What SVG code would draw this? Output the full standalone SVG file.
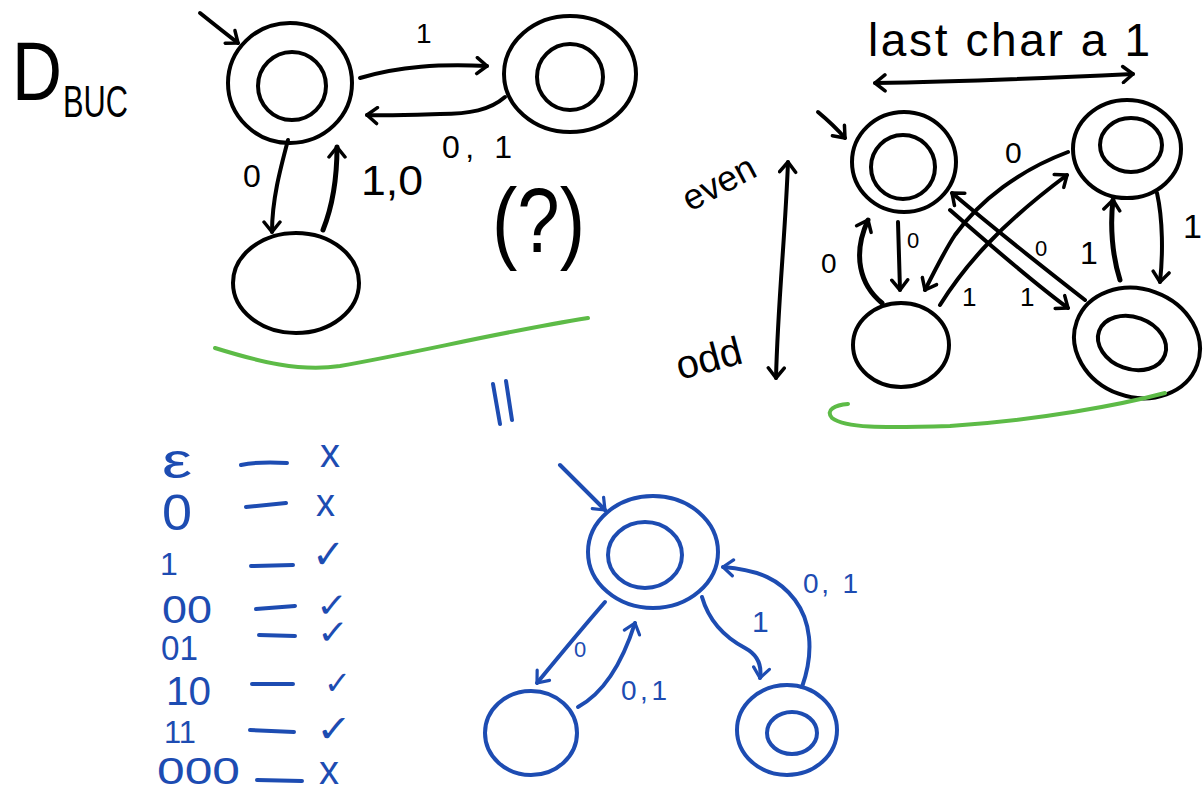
<svg xmlns="http://www.w3.org/2000/svg" width="1203" height="790" viewBox="0 0 1203 790">
<defs>
<style>
.k{fill:none;stroke:#000;stroke-width:4;stroke-linecap:round;stroke-linejoin:round}
.kt{fill:none;stroke:#000;stroke-width:5;stroke-linecap:round;stroke-linejoin:round}
.b{fill:none;stroke:#1d4cb2;stroke-width:4;stroke-linecap:round;stroke-linejoin:round}
.g{fill:none;stroke:#5dbb47;stroke-width:4;stroke-linecap:round;stroke-linejoin:round}
.tk{font-family:"Liberation Sans",Arial,sans-serif;fill:#000}
.tb{font-family:"Liberation Sans",Arial,sans-serif;fill:#1d4cb2}
.sym{font-family:"DejaVu Sans",sans-serif;fill:#1d4cb2}
.ak{marker-end:url(#mk)}
.ab{marker-end:url(#mb)}
.dk{marker-start:url(#mk);marker-end:url(#mk)}
</style>
<marker id="mk" viewBox="0 0 20 20" refX="13" refY="10" markerWidth="20" markerHeight="20" orient="auto-start-reverse" markerUnits="userSpaceOnUse">
<path d="M3,2 L13,10 L3,18" fill="none" stroke="#000" stroke-width="3.5" stroke-linecap="round" stroke-linejoin="round"/>
</marker>
<marker id="mb" viewBox="0 0 20 20" refX="13" refY="10" markerWidth="20" markerHeight="20" orient="auto" markerUnits="userSpaceOnUse">
<path d="M3,2 L13,10 L3,18" fill="none" stroke="#1d4cb2" stroke-width="3.2" stroke-linecap="round" stroke-linejoin="round"/>
</marker>
</defs>

<!-- Title -->
<g id="title">
<text class="tk" x="12" y="100" font-size="84" textLength="50" lengthAdjust="spacingAndGlyphs">D</text>
<text class="tk" x="63" y="117" font-size="44" textLength="65" lengthAdjust="spacingAndGlyphs">BUC</text>
</g>

<!-- Top-left automaton nodes -->
<g id="nodeA">
<ellipse class="k" cx="290" cy="83" rx="62" ry="60"/>
<ellipse class="k" cx="292" cy="86" rx="34" ry="34"/>
</g>
<g id="nodeB">
<ellipse class="k" cx="570" cy="74" rx="66" ry="58"/>
<ellipse class="k" cx="570" cy="77" rx="33" ry="33"/>
</g>
<g id="nodeC">
<ellipse class="k" cx="296" cy="283" rx="63" ry="50"/>
</g>

<!-- Top-right automaton nodes -->
<g id="nodeD">
<ellipse class="k" cx="904" cy="162" rx="52" ry="50"/>
<ellipse class="k" cx="903" cy="167" rx="32" ry="32"/>
</g>
<g id="nodeE">
<ellipse class="k" cx="1127" cy="149" rx="54" ry="49"/>
<ellipse class="k" cx="1131" cy="145" rx="31" ry="27"/>
</g>
<g id="nodeF">
<ellipse class="k" cx="901" cy="345" rx="48" ry="42"/>
</g>
<g id="nodeG">
<ellipse class="k" cx="1137" cy="343" rx="64" ry="54" transform="rotate(20 1137 343)"/>
<ellipse class="k" cx="1132" cy="343" rx="35" ry="26" transform="rotate(20 1132 343)"/>
</g>

<!-- Bottom blue automaton nodes -->
<g id="nodeH">
<ellipse class="b" cx="653" cy="552" rx="65" ry="56"/>
<ellipse class="b" cx="645" cy="555" rx="37" ry="33"/>
</g>
<g id="nodeI">
<ellipse class="b" cx="531" cy="733" rx="46" ry="42"/>
</g>
<g id="nodeJ">
<ellipse class="b" cx="787" cy="730" rx="50" ry="45"/>
<ellipse class="b" cx="792" cy="733" rx="25" ry="21"/>
</g>

<!-- Connectors -->
<g id="connectors">
<path class="k ak" d="M200,13 C215,25 225,33 238,43"/>
<path class="k ak" d="M360,78 C400,66 440,64 487,66"/>
<path class="k ak" d="M505,97 C490,110 470,114 440,114 C410,115 385,116 367,115"/>
<path class="k ak" d="M288,140 C280,170 272,200 272,232"/>
<path class="kt ak" d="M323,230 C333,205 337,175 337,147"/>

<path class="k ak" d="M818,112 C830,122 838,130 845,138"/>
<path class="k dk" d="M875,83 C950,82 1050,78 1133,74"/>
<path class="k dk" d="M788,162 C785,240 778,300 776,378"/>
<path class="k ak" d="M898,222 L900,290"/>
<path class="kt ak" d="M882,303 C860,285 852,255 868,220"/>
<path class="k ak" d="M1068,152 C1020,170 980,200 955,235 C945,250 935,270 925,290"/>
<path class="k ak" d="M940,305 C965,265 1000,225 1067,175"/>
<path class="k ak" d="M1085,300 C1040,265 990,225 952,193"/>
<path class="k ak" d="M950,210 C990,245 1030,280 1068,308"/>
<path class="kt ak" d="M1120,280 C1112,255 1110,225 1113,200"/>
<path class="k ak" d="M1157,193 C1163,220 1163,255 1160,282"/>

<path class="b ab" d="M560,465 C575,480 590,495 605,510"/>
<path class="b ab" d="M605,602 C585,625 560,655 537,683"/>
<path class="b ab" d="M578,707 C600,695 620,670 635,623" stroke-width="5"/>
<path class="b ab" d="M702,597 C710,625 730,640 745,648 C758,655 762,665 760,678"/>
<path class="b ab" d="M802,687 C815,650 810,620 795,600 C780,580 760,570 723,567"/>
</g>

<!-- Green underlines and blue equals -->
<g id="marks">
<path class="g" d="M215,348 C260,362 300,372 340,366 C420,352 500,332 588,318"/>
<path class="g" d="M848,404 C835,405 825,410 832,418 C845,428 880,428 950,426 C1040,420 1120,405 1165,393"/>
<path class="b" d="M493,384 L500,424 M506,381 L512,420"/>
</g>

<!-- Labels top-left -->
<g id="labels-left">
<text class="tk" x="416" y="43" font-size="28">1</text>
<text class="tk" x="442" y="158" font-size="32" textLength="70" lengthAdjust="spacing">0, 1</text>
<text class="tk" x="243" y="187" font-size="32">0</text>
<text class="tk" x="361" y="195" font-size="42" textLength="62" lengthAdjust="spacingAndGlyphs">1,0</text>
<text class="tk" x="492" y="252" font-size="90" textLength="93" lengthAdjust="spacingAndGlyphs">(?)</text>
</g>

<!-- Labels top-right -->
<g id="labels-right">
<text class="tk" x="868" y="56" font-size="46" textLength="282" lengthAdjust="spacing">last char a 1</text>
<text class="tk" x="690" y="212" font-size="36" transform="rotate(-28 690 212)">even</text>
<text class="tk" x="680" y="380" font-size="40" transform="rotate(-15 680 380)">odd</text>
<text class="tk" x="1005" y="163" font-size="30">0</text>
<text class="tk" x="907" y="248" font-size="22">0</text>
<text class="tk" x="821" y="273" font-size="28">0</text>
<text class="tk" x="962" y="306" font-size="26">1</text>
<text class="tk" x="1020" y="306" font-size="26">1</text>
<text class="tk" x="1035" y="256" font-size="22">0</text>
<text class="tk" x="1080" y="264" font-size="32">1</text>
<text class="tk" x="1183" y="238" font-size="34">1</text>
</g>

<!-- Blue table -->
<g id="table">
<text class="tb" x="162" y="478" font-size="50" textLength="30" lengthAdjust="spacingAndGlyphs">ε</text>
<text class="tb" x="162" y="530" font-size="50" textLength="30" lengthAdjust="spacingAndGlyphs">0</text>
<text class="tb" x="160" y="575" font-size="32">1</text>
<text class="tb" x="162" y="623" font-size="38" textLength="50" lengthAdjust="spacingAndGlyphs">00</text>
<text class="tb" x="161" y="660" font-size="35" textLength="37" lengthAdjust="spacingAndGlyphs">01</text>
<text class="tb" x="166" y="705" font-size="40" textLength="45" lengthAdjust="spacingAndGlyphs">10</text>
<text class="tb" x="164" y="743" font-size="32" textLength="32" lengthAdjust="spacingAndGlyphs">11</text>
<text class="tb" x="157" y="784" font-size="36" textLength="83" lengthAdjust="spacingAndGlyphs">000</text>
<path class="b" d="M241,465 C255,462 270,462 287,463 M246,507 L286,503 M251,566 L293,565 M256,609 L295,606 M259,635 L295,636 M252,684 L293,684 M250,730 L294,732 M257,780 L302,781"/>
<text class="tb" x="320" y="467" font-size="40">x</text>
<text class="tb" x="316" y="516" font-size="38">x</text>
<text class="sym" x="312" y="568" font-size="40" textLength="33" lengthAdjust="spacingAndGlyphs">✓</text>
<text class="sym" x="316" y="617" font-size="34" textLength="32" lengthAdjust="spacingAndGlyphs">✓</text>
<text class="sym" x="317" y="644" font-size="34" textLength="32" lengthAdjust="spacingAndGlyphs">✓</text>
<text class="sym" x="324" y="694" font-size="32" textLength="27" lengthAdjust="spacingAndGlyphs">✓</text>
<text class="sym" x="316" y="742" font-size="38" textLength="36" lengthAdjust="spacingAndGlyphs">✓</text>
<text class="tb" x="319" y="784" font-size="40">x</text>
</g>

<!-- Blue automaton labels -->
<g id="labels-blue">
<text class="tb" x="574" y="657" font-size="22">0</text>
<text class="tb" x="621" y="700" font-size="28" textLength="46" lengthAdjust="spacing">0,1</text>
<text class="tb" x="752" y="632" font-size="30">1</text>
<text class="tb" x="803" y="593" font-size="28" textLength="55" lengthAdjust="spacing">0, 1</text>
</g>
</svg>
